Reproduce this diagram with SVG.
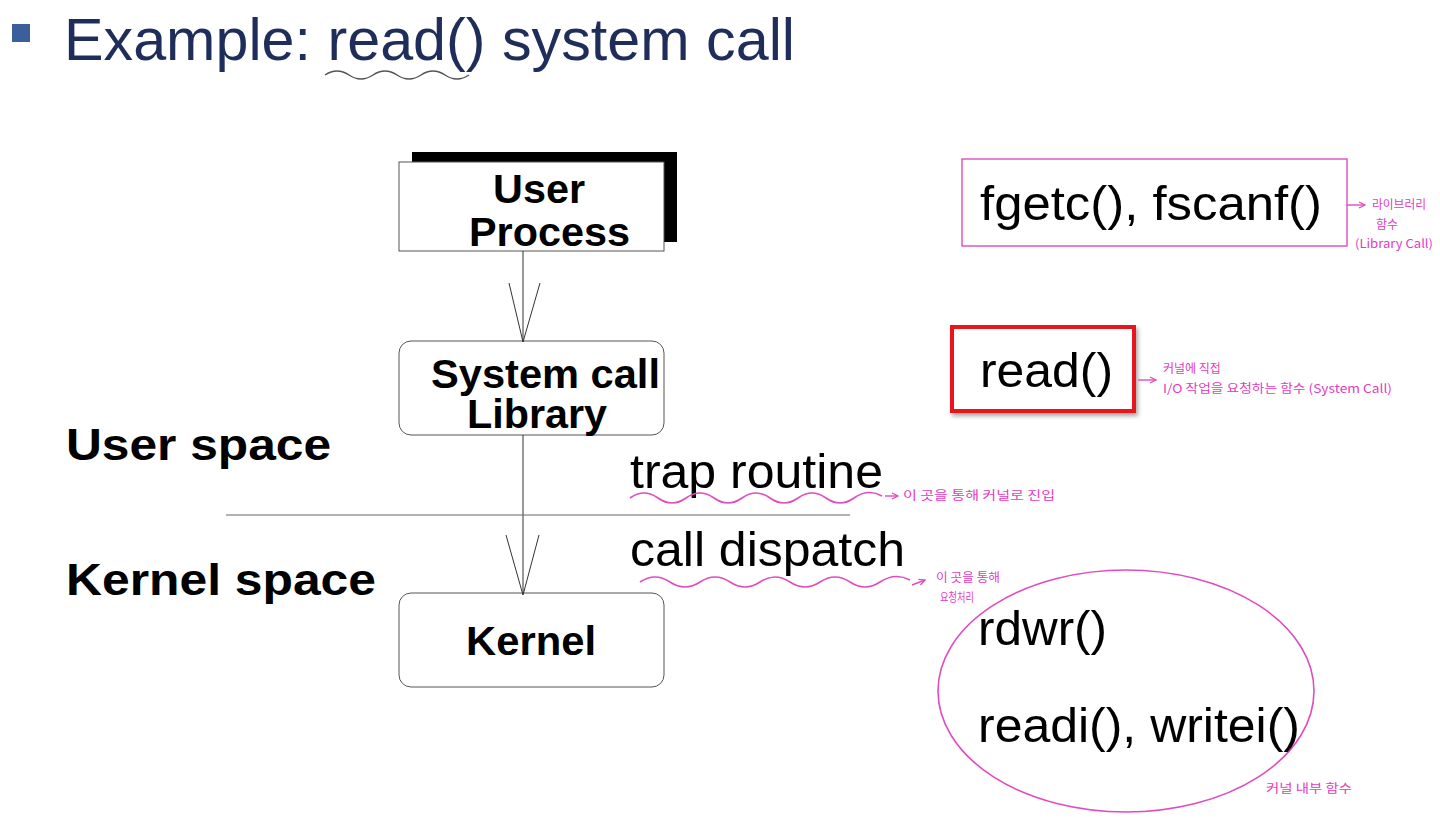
<svg xmlns="http://www.w3.org/2000/svg" width="1440" height="818" viewBox="0 0 1440 818">
<defs>
<style>
.bold{font-family:"Liberation Sans",Arial,sans-serif;font-weight:bold;font-size:40px;fill:#000}
.big{font-family:"Liberation Sans",Arial,sans-serif;font-size:48px;fill:#000}
.side{font-family:"Liberation Sans",Arial,sans-serif;font-weight:bold;font-size:44px;fill:#000}
.note{font-family:"Noto Sans CJK KR","Liberation Sans",sans-serif;font-size:12px;fill:#e43bbf}
.box{fill:#fff;stroke:#555;stroke-width:1}
.conn{fill:none;stroke:#333;stroke-width:1}
.wave{fill:none;stroke:#e04cc0;stroke-width:1.6}
.pk{fill:none;stroke:#e04cc0;stroke-width:1.4}
</style>
<marker id="pa" viewBox="0 0 8 8" refX="7" refY="4" markerWidth="8" markerHeight="8" orient="auto" markerUnits="userSpaceOnUse"><path d="M1,1 L7,4 L1,7" fill="none" stroke="#e04cc0" stroke-width="1.3"/></marker>
<filter id="sh" x="-10%" y="-10%" width="130%" height="130%"><feDropShadow dx="2" dy="3" stdDeviation="2" flood-color="#000" flood-opacity="0.35"/></filter>
</defs>
<rect width="1440" height="818" fill="#fff"/>

<g id="title">
<rect x="12" y="24" width="18" height="18" fill="#3a5f9a"/>
<text x="64" y="60" font-family="'Liberation Sans',Arial,sans-serif" font-size="60" fill="#1f2d5a" textLength="731" lengthAdjust="spacingAndGlyphs">Example: read() system call</text>
<path d="M325,75 q12,-8 24,0 t24,0 t24,0 t24,0 t24,0 t24,0" fill="none" stroke="#555" stroke-width="1.5"/>
</g>

<g id="user-process">
<rect x="412" y="152" width="265" height="90" fill="#000"/>
<rect x="399" y="162" width="265" height="89" class="box"/>
<text x="493" y="203" class="bold" textLength="92" lengthAdjust="spacingAndGlyphs">User</text>
<text x="469" y="246" class="bold" textLength="161" lengthAdjust="spacingAndGlyphs">Process</text>
</g>

<g id="syscall-lib">
<rect x="399" y="341" width="265" height="94" rx="12" class="box"/>
<text x="431" y="388" class="bold" textLength="229" lengthAdjust="spacingAndGlyphs">System call</text>
<text x="467" y="428" class="bold" textLength="140" lengthAdjust="spacingAndGlyphs">Library</text>
</g>

<g id="kernel">
<rect x="399" y="593" width="265" height="94" rx="12" class="box"/>
<text x="466" y="655" class="bold" textLength="130" lengthAdjust="spacingAndGlyphs">Kernel</text>
</g>

<g id="connectors">
<line x1="523" y1="251" x2="523" y2="342" class="conn"/>
<path d="M509,283 L523,342 L540,283" class="conn"/>
<line x1="523" y1="435" x2="523" y2="594" class="conn"/>
<path d="M506,535 L523,595 L539,535" class="conn"/>
<line x1="226" y1="515" x2="850" y2="515" stroke="#666" stroke-width="1"/>
</g>

<g id="labels">
<text x="66" y="460" class="side" textLength="265" lengthAdjust="spacingAndGlyphs">User space</text>
<text x="66" y="595" class="side" textLength="310" lengthAdjust="spacingAndGlyphs">Kernel space</text>
<text x="630" y="488" class="big" textLength="253" lengthAdjust="spacingAndGlyphs">trap routine</text>
<text x="630" y="566" class="big" textLength="275" lengthAdjust="spacingAndGlyphs">call dispatch</text>
<path d="M630,498 q14,-10 28,0 t28,0 t28,0 t28,0 t28,0 t28,0 t28,0 t28,0 t28,-2" class="wave"/>
<line x1="885" y1="496" x2="898" y2="496" class="pk" marker-end="url(#pa)"/>
<text x="903" y="500" class="note" textLength="152" lengthAdjust="spacingAndGlyphs">이 곳을 통해 커널로 진입</text>
<path d="M640,582 q15,-10 30,0 t30,0 t30,0 t30,0 t30,0 t30,0 t30,0 t30,0 t30,-2" class="wave"/>
<line x1="912" y1="585" x2="925" y2="580" class="pk" marker-end="url(#pa)"/>
<text x="936" y="582" class="note" textLength="64" lengthAdjust="spacingAndGlyphs">이 곳을 통해</text>
<text x="940" y="602" class="note" textLength="34" lengthAdjust="spacingAndGlyphs">요청처리</text>
</g>

<g id="lib-call">
<rect x="962" y="159" width="385" height="87" fill="none" stroke="#e04cc0" stroke-width="1.4"/>
<text x="980" y="220" class="big" textLength="342" lengthAdjust="spacingAndGlyphs">fgetc(), fscanf()</text>
<line x1="1347" y1="205" x2="1365" y2="205" class="pk" marker-end="url(#pa)"/>
<text x="1372" y="209" class="note" textLength="54" lengthAdjust="spacingAndGlyphs">라이브러리</text>
<text x="1376" y="229" class="note">함수</text>
<text x="1355" y="248" class="note" textLength="78" lengthAdjust="spacingAndGlyphs">(Library Call)</text>
</g>

<g id="sys-call">
<rect x="952" y="327" width="182" height="84" fill="#fff" stroke="#e8161b" stroke-width="4" filter="url(#sh)"/>
<text x="980" y="387" class="big" textLength="133" lengthAdjust="spacingAndGlyphs">read()</text>
<line x1="1138" y1="380" x2="1156" y2="380" class="pk" marker-end="url(#pa)"/>
<text x="1163" y="373" class="note">커널에 직접</text>
<text x="1163" y="393" class="note" textLength="229" lengthAdjust="spacingAndGlyphs">I/O 작업을 요청하는 함수 (System Call)</text>
</g>

<g id="kernel-funcs">
<ellipse cx="1126" cy="691" rx="188" ry="121" fill="none" stroke="#e04cc0" stroke-width="1.6"/>
<text x="978" y="645" class="big" textLength="129" lengthAdjust="spacingAndGlyphs">rdwr()</text>
<text x="978" y="742" class="big" textLength="322" lengthAdjust="spacingAndGlyphs">readi(), writei()</text>
<text x="1266" y="793" class="note" textLength="86" lengthAdjust="spacingAndGlyphs">커널 내부 함수</text>
</g>
</svg>
